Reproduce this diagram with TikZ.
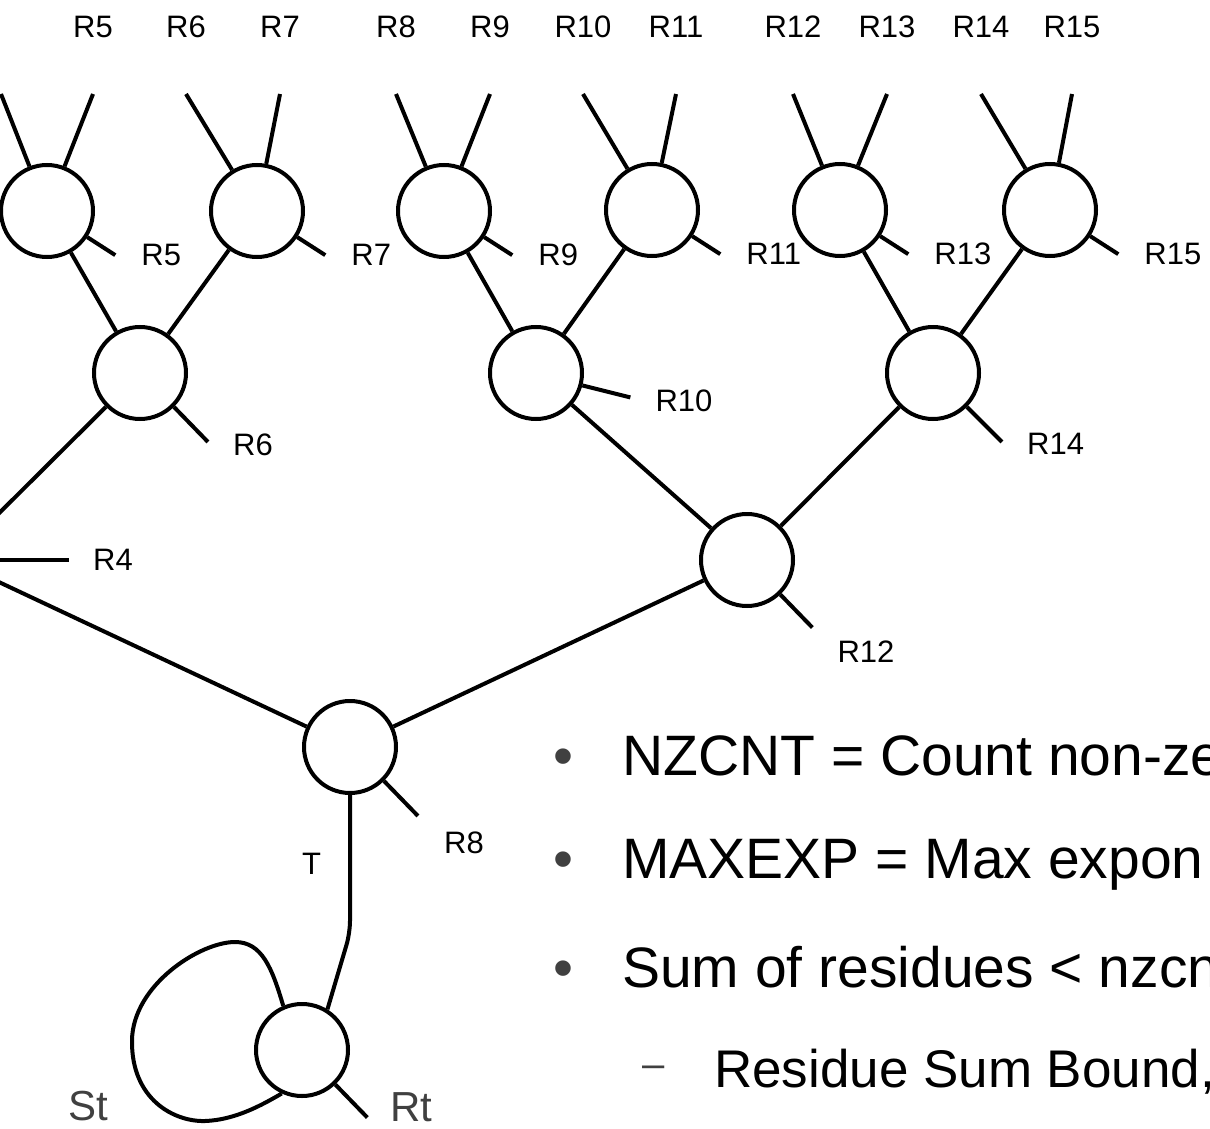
\documentclass[tikz,border=0pt]{standalone}
\usepackage{fontspec}
\setmainfont{Liberation Sans}
\usetikzlibrary{positioning}
\definecolor{markgray}{HTML}{404040}
\tikzset{
    junction/.style={circle, draw, line width=4pt, minimum size=92pt, inner sep=0pt},
    wire/.style={line width=4pt},
    reg label/.style={inner sep=0pt, font=\fontsize{31}{36}\selectfont},
    end label/.style={inner sep=0pt, text=markgray, font=\fontsize{42}{48}\selectfont},
    item text/.style={inner sep=0pt, anchor=base west, font=\fontsize{57}{66}\selectfont},
    item mark/.style={inner sep=0pt, anchor=base, text=markgray, font=\fontsize{57}{66}\selectfont},
    sub text/.style={inner sep=0pt, anchor=base west, font=\fontsize{53}{62}\selectfont},
    sub mark/.style={inner sep=0pt, anchor=base, text=markgray, font=\fontsize{40}{48}\selectfont}
}
\begin{document}
\begin{tikzpicture}[x=1pt,y=-1pt]
	\useasboundingbox (0,0) rectangle (1210,1129);
	\clip (0,0) rectangle (1210,1129);
	% leaf junctions
	\node[junction] (n5) at (47,211) {};
	\node[junction] (n7) at (257,211) {};
	\node[junction] (n9) at (444,211) {};
	\node[junction] (n11) at (652,210) {};
	\node[junction] (n13) at (840,210) {};
	\node[junction] (n15) at (1050,210) {};
	% inner junctions
	\node[junction] (n6) at (140,373) {};
	\node[junction] (n10) at (536,373) {};
	\node[junction] (n14) at (933,373) {};
	\node[junction] (n4) at (-48,560) {};
	\node[junction] (n12) at (747,560) {};
	\node[junction] (n8) at (350,747) {};
	\node[junction] (nt) at (302,1050) {};

	% inputs at the top
	\coordinate (t4) at (1,94);
	\coordinate (t5) at (93,94);
	\coordinate (t6) at (186,94);
	\coordinate (t7) at (280,94);
	\coordinate (t8) at (396,94);
	\coordinate (t9) at (490,94);
	\coordinate (t10) at (583,94);
	\coordinate (t11) at (676,94);
	\coordinate (t12) at (793,94);
	\coordinate (t13) at (887,94);
	\coordinate (t14) at (981,94);
	\coordinate (t15) at (1072,94);
	\foreach \a/\b in {4/5,5/5,6/7,7/7,8/9,9/9,10/11,11/11,12/13,13/13,14/15,15/15}
		\draw[wire] (t\a) -- (n\b);
	\foreach \a in {5,...,15}
		\node[reg label, above=56pt of t\a] {R\a};

	% tree
	\foreach \a/\b in {5/6,7/6,9/10,11/10,13/14,15/14,6/4,10/12,14/12,4/8,12/8}
		\draw[wire] (n\a) -- (n\b);

	% residue stubs
	\foreach \a in {5,7,9,11,13,15}{
		\draw[wire] (n\a.-33) -- ++(28,18) coordinate (s\a);
		\node[reg label, right=26pt of s\a] {R\a};
	}
	\draw[wire] (n6.-45) -- ++(34,35) coordinate (s6);
	\node[reg label, right=25pt of s6, yshift=-3pt] {R6};
	\draw[wire] (n14.-45) -- ++(35,35) coordinate (s14);
	\node[reg label, right=25pt of s14, yshift=-2pt] {R14};
	\draw[wire] (n10.-15) -- ++(48,12) coordinate (s10);
	\node[reg label, right=25pt of s10, yshift=-3pt] {R10};
	\draw[wire] (n4.east) -- ++(69,0) coordinate (s4);
	\node[reg label, right=24pt of s4] {R4};
	\draw[wire] (n12.-46) -- ++(32,33) coordinate (s12);
	\node[reg label, below right=13pt and 25pt of s12] {R12};
	\draw[wire] (n8.-45) -- ++(34,35) coordinate (s8);
	\node[reg label, below right=16pt and 26pt of s8] {R8};
	\draw[wire] (nt.-46) -- ++(32,33) coordinate (sRt);
	\node[end label, right=23pt of sRt, yshift=10pt] {Rt};
	\node[end label, anchor=west] (st) at (68,1106) {St};

	% tail and loop
	\coordinate (tbend) at (350,933);
	\draw[wire, rounded corners=12pt] (n8.south) -- node[reg label, left=27pt] {T} (tbend) -- (nt.58);
	\draw[wire] (nt.113) .. controls (272,968) and (262,942) .. (235,942)
		.. controls (200,942) and (133,985) .. (132,1040)
		.. controls (131,1100) and (175,1122) .. (205,1121)
		.. controls (235,1120) and (262,1105) .. (nt.-115);

	% bullet text
	\node[item mark] (m1) at (563,775) {•};
	\node[item text] (i1) at (622,775) {NZCNT = Count non-ze};
	\node[item mark] (m2) at (563,878) {•};
	\node[item text] (i2) at (622,878) {MAXEXP = Max expon};
	\node[item mark] (m3) at (563,987) {•};
	\node[item text] (i3) at (622,987) {Sum of residues < nzcn};
	\node[sub mark] (m4) at (654,1077) {–};
	\node[sub text] (i4) at (714,1087) {Residue Sum Bound,};
\end{tikzpicture}
\end{document}
